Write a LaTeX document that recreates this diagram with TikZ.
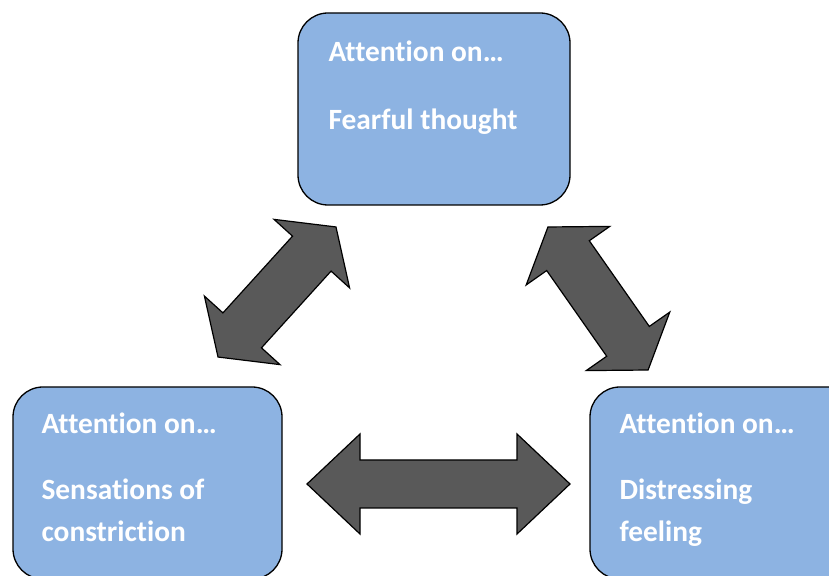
\documentclass[tikz,border=0pt]{standalone}
\usepackage{fontspec}
\setmainfont{Carlito}[Ligatures={NoCommon,NoRequired,NoContextual}]
\usetikzlibrary{positioning}
\definecolor{boxblue}{RGB}{141,179,226}
\definecolor{arrowgrey}{RGB}{89,89,89}
\tikzset{
    attbox/.style={draw, line width=1.3pt, fill=boxblue, rounded corners=30pt, minimum width=272pt, minimum height=192pt, inner sep=0pt}, % the blue boxes
    atttext/.style={text=white, font=\bfseries\fontsize{29.4}{42}\selectfont, align=left, inner sep=0pt, anchor=north west}, % white text in the boxes
    bigarrow/.style={draw, line width=1.2pt, fill=arrowgrey, line join=miter}, % grey block arrows
}
% centre, angle, half length, head length, head half width, shaft half width
\newcommand{\dblarrow}[6]{%
    \begin{scope}[shift={(#1)}, rotate=#2]
        \draw[bigarrow] (-#3,0) -- (-#3+#4,#5) -- (-#3+#4,#6) -- (#3-#4,#6) -- (#3-#4,#5) -- (#3,0)
            -- (#3-#4,-#5) -- (#3-#4,-#6) -- (-#3+#4,-#6) -- (-#3+#4,-#5) -- cycle;
    \end{scope}}

\begin{document}
\begin{tikzpicture}[x=1pt,y=1pt]
    \useasboundingbox (0,0) rectangle (829,575);
    \clip (0,0) rectangle (829,575);

    \node[attbox] (thought) at (434,466) {};
    \node[attbox, minimum width=269pt] (sensation) at (147.5,92) {};
    \node[attbox] (feeling) at (726,92) {};

    \node[atttext] (thoughtTxt) at ([xshift=31pt,yshift=-28.5pt]thought.north west) {Attention on…\\[26pt]Fearful thought};
    \node[atttext] (sensationTxt) at ([xshift=29pt,yshift=-26.5pt]sensation.north west) {Attention on…\\[24pt]Sensations of\\constriction};
    \node[atttext] (feelingTxt) at ([xshift=30pt,yshift=-26.5pt]feeling.north west) {Attention on…\\[24pt]Distressing\\feeling};

    \coordinate (leftArrow) at (277,283);
    \coordinate (rightArrow) at (598,276.5);
    \coordinate (bottomArrow) at (438.5,91);
    \dblarrow{leftArrow}{47.8}{87.8}{36}{51}{26}
    \dblarrow{rightArrow}{-55}{87.3}{35}{51}{26}
    \dblarrow{bottomArrow}{0}{131.5}{53}{50}{24}
\end{tikzpicture}
\end{document}
